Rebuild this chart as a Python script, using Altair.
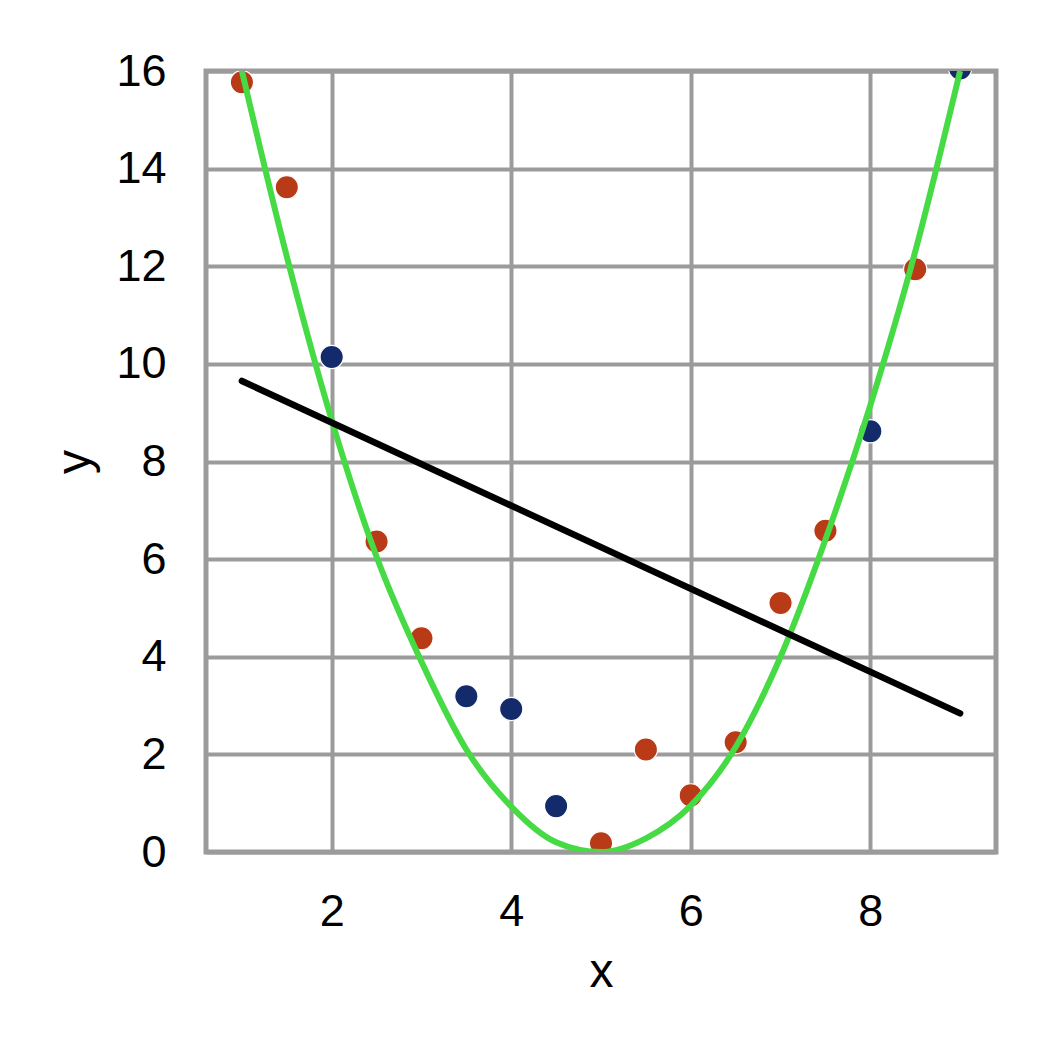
import altair as alt
import pandas as pd

# Scatter points
pt_x = [1.0, 1.5, 2.0, 2.5, 3.0, 3.5, 4.0, 4.5, 5.0, 5.5, 6.0, 6.5, 7.0, 7.5, 8.0, 8.5, 9.0]
pt_y = [15.77, 13.62, 10.14, 6.36, 4.38, 3.19, 2.93, 0.94, 0.18, 2.10, 1.16, 2.25, 5.10, 6.58, 8.62, 11.94, 16.05]
pt_group = ["a", "a", "b", "a", "a", "b", "b", "b", "a", "a", "a", "a", "a", "a", "b", "a", "b"]

# Green curve
curve_x = [1.0, 1.5, 2.0, 2.5, 3.0, 3.5, 4.0, 4.5, 5.0, 5.5, 6.0, 6.5, 7.0, 7.5, 8.0, 8.5, 9.0]
curve_y = [16.0, 12.2, 8.85, 6.05, 3.9, 2.1, 0.93, 0.2, 0.0, 0.28, 0.95, 2.15, 4.0, 6.4, 9.15, 12.3, 16.0]

# Black straight line
line_x = [1.0, 9.0]
line_y = [9.65, 2.84]

x_ticks = [2, 4, 6, 8]
y_ticks = [0, 2, 4, 6, 8, 10, 12, 14, 16]

pts = pd.DataFrame({"x": pt_x, "y": pt_y, "g": pt_group})
crv = pd.DataFrame({"x": curve_x, "y": curve_y})
lin = pd.DataFrame({"x": line_x, "y": line_y})

xs = alt.Scale(domain=[0.6, 9.4], nice=False, zero=False)
ys = alt.Scale(domain=[0, 16], nice=False, zero=False)

xax = alt.Axis(values=x_ticks, format="d", title="x", labelPadding=37, titlePadding=14)
yax = alt.Axis(values=y_ticks, format="d", title="y", labelPadding=40, titlePadding=16)

points = alt.Chart(pts).mark_circle(
    size=540, opacity=1, stroke="white", strokeWidth=1.2, clip=True
).encode(
    x=alt.X("x:Q", scale=xs, axis=xax),
    y=alt.Y("y:Q", scale=ys, axis=yax),
    color=alt.Color("g:N", scale=alt.Scale(domain=["a", "b"], range=["#b83a16", "#132a6b"]), legend=None),
)

curve = alt.Chart(crv).mark_line(
    color="#46da44", strokeWidth=6, interpolate="monotone", clip=True
).encode(x=alt.X("x:Q", scale=xs), y=alt.Y("y:Q", scale=ys))

line = alt.Chart(lin).mark_line(
    color="black", strokeWidth=6.5, strokeCap="round"
).encode(x=alt.X("x:Q", scale=xs), y=alt.Y("y:Q", scale=ys))

chart = alt.layer(points, curve, line).properties(
    width=790,
    height=781,
    autosize=alt.AutoSizeParams(type="none"),
    padding={"left": 198, "top": 63, "right": 40, "bottom": 190},
).configure_view(
    stroke="#9b9b9b", strokeWidth=5
).configure_axis(
    grid=True,
    gridColor="#9b9b9b",
    gridWidth=4,
    gridOpacity=1,
    domain=False,
    ticks=False,
    tickSize=0,
    labelFont="Liberation Sans",
    labelFontSize=45,
    labelColor="black",
    titleFont="Liberation Sans",
    titleFontSize=48,
    titleFontWeight="normal",
    titleColor="black",
)

chart.save("out.html", embed_options={"renderer": "svg", "actions": False})
